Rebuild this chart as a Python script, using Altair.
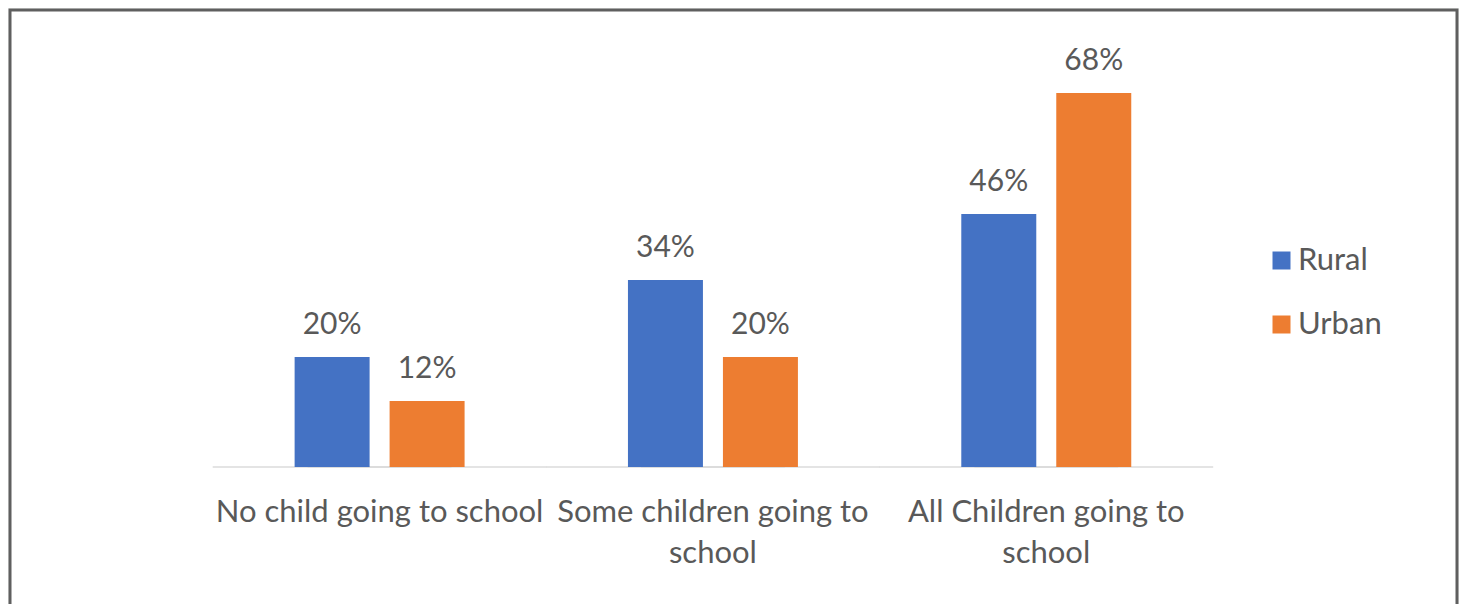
import altair as alt
import pandas as pd

# ---- data ----
categories = [
    "No child going to school",
    "Some children going to school",
    "All Children going to school",
]
tick_label_lines = [
    ["No child going to school"],
    ["Some children going to", "school"],
    ["All Children going to", "school"],
]
series = ["Rural", "Urban"]
rural = [20, 34, 46]
urban = [12, 20, 68]
colors = ["#4472C4", "#ED7D31"]

rows = []
for i, c in enumerate(categories):
    rows.append({"category": c, "series": "Rural", "value": rural[i]})
    rows.append({"category": c, "series": "Urban", "value": urban[i]})
df = pd.DataFrame(rows)

# ---- layout ----
W, H = 1447, 640
BASELINE = 457.0
PX_PER_PCT = 5.5
y_domain = [-(H - BASELINE) / PX_PER_PCT, BASELINE / PX_PER_PCT]
FONT = "Lato"
TXT = "#595959"
PAD_OUTER = 0.6705
STEP = W / (len(categories) + 2 * PAD_OUTER)
OFF_PI, OFF_PO = 0.2105, 0.86
OFF_STEP = STEP / (len(series) - OFF_PI + 2 * OFF_PO)
BAR_W = OFF_STEP * (1 - OFF_PI)
# a baseline segment centred on each bar slot, long enough to fill its band
BASE_SEG = 2 * (OFF_PO * OFF_STEP + BAR_W / 2) + 0.5

label_expr = " : ".join(
    f"datum.value == '{c}' ? {lines!r}" for c, lines in zip(categories, tick_label_lines)
) + " : datum.value"

x_scale = alt.Scale(domain=categories, paddingInner=0, paddingOuter=PAD_OUTER, align=0.454)
y_scale = alt.Scale(domain=y_domain, nice=False, zero=False)

x_enc = alt.X(
    "category:N",
    scale=x_scale,
    axis=alt.Axis(
        title=None, domain=False, ticks=False, labelAngle=0,
        labelFont=FONT, labelFontSize=31, labelColor=TXT, labelPadding=30,
        labelLineHeight=41, labelBaseline="top", labelLimit=1000,
        offset=BASELINE - H, labelExpr=label_expr,
    ),
)
xoff = alt.XOffset("series:N", scale=alt.Scale(domain=series, paddingInner=OFF_PI, paddingOuter=OFF_PO))

baseline = alt.Chart(df).transform_calculate(zero="0").mark_tick(
    orient="horizontal", color="#D9D9D9", thickness=2, size=BASE_SEG
).encode(
    x=x_enc,
    xOffset=xoff,
    y=alt.Y("zero:Q", scale=y_scale, axis=None),
)

bars = alt.Chart(df).mark_bar().encode(
    x=alt.X("category:N", scale=x_scale),
    xOffset=xoff,
    y=alt.Y("value:Q", scale=y_scale, axis=None),
    color=alt.Color(
        "series:N",
        scale=alt.Scale(domain=series, range=colors),
        legend=alt.Legend(
            title=None, orient="none", legendX=1256, legendY=235,
            symbolType="square", symbolSize=324, symbolStrokeWidth=0,
            labelFont=FONT, labelFontSize=31, labelColor=TXT,
            rowPadding=32, labelOffset=1, padding=0,
        ),
    ),
)

labels = alt.Chart(df).transform_calculate(
    label="datum.value + '%'"
).mark_text(font=FONT, fontSize=30, color=TXT, baseline="alphabetic", dy=-23).encode(
    x=alt.X("category:N", scale=x_scale),
    xOffset=xoff,
    y=alt.Y("value:Q", scale=y_scale),
    text="label:N",
)

chart = (
    alt.layer(baseline, bars, labels)
    .properties(width=W, height=H, padding={"left": 2, "top": 2, "right": 2, "bottom": 0})
    .configure(background="#F1F2F1")
    .configure_view(fill="white", stroke="#5F5F5F", strokeWidth=3)
)

chart.save("out.html", embed_options={"renderer": "svg", "actions": False})
